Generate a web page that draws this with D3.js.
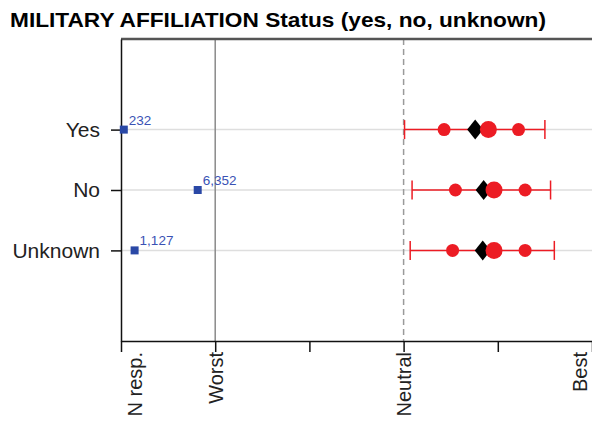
<!DOCTYPE html>
<html>
<head>
<meta charset="utf-8">
<script src="https://cdn.jsdelivr.net/npm/d3@7"></script>
<style>
	body { margin: 0; background: #fff; }
	text { font-family: "Liberation Sans", Arial, sans-serif; }
</style>
</head>
<body>
<div id="chart"></div>
<script>
// DATA
const categories = ["Yes", "No", "Unknown"];
const counts = [232, 6352, 1127];
const countLabels = ["232", "6,352", "1,127"];
const whiskerLow = [0.01, 0.09, 0.07];
const lowDot = [0.43, 0.55, 0.52];
const diamondVal = [0.76, 0.85, 0.84];
const meanDot = [0.90, 0.96, 0.96];
const highDot = [1.22, 1.29, 1.29];
const whiskerHigh = [1.50, 1.56, 1.60];
const tickValues = [-3, -2, -1, 0, 1, 2];
const tickLabels = {"-3": "N resp.", "-2": "Worst", "0": "Neutral", "2": "Best"};

// Dimensions
const W = 592, H = 421;
const margin = {top: 39, right: 0, bottom: 80, left: 121};
const width = W - margin.left - margin.right;
const height = H - margin.top - margin.bottom;

const svg = d3.select("#chart").append("svg")
	.attr("width", W)
	.attr("height", H)
	.append("g")
		.attr("transform", "translate(" + margin.left + "," + margin.top + ")");

// Scales
const x = d3.scaleLinear().domain([-3, 2]).range([0, width]);
const y = d3.scalePoint().domain(categories).range([0, height]).padding(1.5);
const xCount = d3.scaleLinear().domain([0, 7800]).range([x(-3), x(-2)]);

// Title
svg.append("text")
	.attr("x", 10 - margin.left)
	.attr("y", 27 - margin.top)
	.attr("textLength", 536)
	.attr("lengthAdjust", "spacingAndGlyphs")
	.style("font-size", "21px")
	.style("font-weight", 700)
	.text("MILITARY AFFILIATION Status (yes, no, unknown)");

// Grid lines
svg.selectAll(".grid")
	.data(categories).enter().append("line")
	.attr("x1", 0).attr("x2", width)
	.attr("y1", d => y(d)).attr("y2", d => y(d))
	.style("stroke", "#dedede")
	.style("stroke-width", 1.5);

// Worst line and neutral line
svg.append("line")
	.attr("x1", x(-2)).attr("x2", x(-2))
	.attr("y1", 0).attr("y2", height)
	.style("stroke", "#8a8a8a")
	.style("stroke-width", 1.5);
svg.append("line")
	.attr("x1", x(0)).attr("x2", x(0))
	.attr("y1", 0).attr("y2", height)
	.style("stroke", "#9a9a9a")
	.style("stroke-width", 1.5)
	.style("stroke-dasharray", "6,4");

// Top border
svg.append("line")
	.attr("x1", 0).attr("x2", width)
	.attr("y1", 0).attr("y2", 0)
	.style("stroke", "#555")
	.style("stroke-width", 2.5);

// X axis
const xAxis = svg.append("g")
	.attr("transform", "translate(0," + height + ")")
	.call(d3.axisBottom(x).tickValues(tickValues).tickSize(11).tickSizeOuter(0).tickFormat(""));
xAxis.select(".domain").style("stroke", "#111").style("stroke-width", 1.5);
xAxis.selectAll(".tick line").style("stroke", "#111").style("stroke-width", 1.5);

const labelShift = {"-3": 13, "-2": 0, "0": 0, "2": -13};
xAxis.selectAll(".tick").filter(d => tickLabels[d] !== undefined)
	.append("text")
	.attr("transform", d => "translate(" + labelShift[d] + ",11) rotate(-90)")
	.attr("dy", "0.35em")
	.style("text-anchor", "end")
	.style("font-size", "20px")
	.style("fill", "#222")
	.text(d => tickLabels[d]);

// Y axis
const yAxis = svg.append("g")
	.call(d3.axisLeft(y).tickSize(10).tickSizeOuter(0).tickPadding(11));
yAxis.select(".domain").style("stroke", "#111").style("stroke-width", 1.5);
yAxis.selectAll(".tick line").style("stroke", "#111").style("stroke-width", 1.5);
yAxis.selectAll(".tick text")
	.style("font-size", "21px")
	.style("fill", "#222")
	.style("font-family", "'Liberation Sans', Arial, sans-serif");

// Count squares
const rows = categories.map((c, i) => ({
	cat: c, n: counts[i], nl: countLabels[i],
	lo: whiskerLow[i], d1: lowDot[i], dm: diamondVal[i],
	mn: meanDot[i], d2: highDot[i], hi: whiskerHigh[i]
}));

svg.selectAll(".nsq")
	.data(rows).enter().append("rect")
	.attr("x", d => xCount(d.n) - 4)
	.attr("y", d => y(d.cat) - 4)
	.attr("width", 8).attr("height", 8)
	.style("fill", "#2a48a6");
svg.selectAll(".nlab")
	.data(rows).enter().append("text")
	.attr("x", d => xCount(d.n) + 5)
	.attr("y", d => y(d.cat) - 5)
	.style("font-size", "13.5px")
	.style("fill", "#3a52b4")
	.text(d => d.nl);

// Whiskers
const red = "#ec1c24";
svg.selectAll(".whisk")
	.data(rows).enter().append("line")
	.attr("x1", d => x(d.lo)).attr("x2", d => x(d.hi))
	.attr("y1", d => y(d.cat)).attr("y2", d => y(d.cat))
	.style("stroke", red).style("stroke-width", 1.5);
["lo", "hi"].forEach(k => {
	svg.selectAll(".cap-" + k)
		.data(rows).enter().append("line")
		.attr("x1", d => x(d[k])).attr("x2", d => x(d[k]))
		.attr("y1", d => y(d.cat) - 9.5).attr("y2", d => y(d.cat) + 9.5)
		.style("stroke", red).style("stroke-width", 1.5);
});

// Dots
["d1", "d2"].forEach(k => {
	svg.selectAll(".dot-" + k)
		.data(rows).enter().append("circle")
		.attr("cx", d => x(d[k]))
		.attr("cy", d => y(d.cat))
		.attr("r", 6.5)
		.style("fill", red);
});

// Diamond
svg.selectAll(".diamond")
	.data(rows).enter().append("path")
	.attr("transform", d => "translate(" + x(d.dm) + "," + y(d.cat) + ")")
	.attr("d", "M-8,0L0,-10L8,0L0,10Z")
	.style("fill", "#000");

// Mean dot
svg.selectAll(".mean")
	.data(rows).enter().append("circle")
	.attr("cx", d => x(d.mn))
	.attr("cy", d => y(d.cat))
	.attr("r", 8.5)
	.style("fill", red);
</script>
</body>
</html>
